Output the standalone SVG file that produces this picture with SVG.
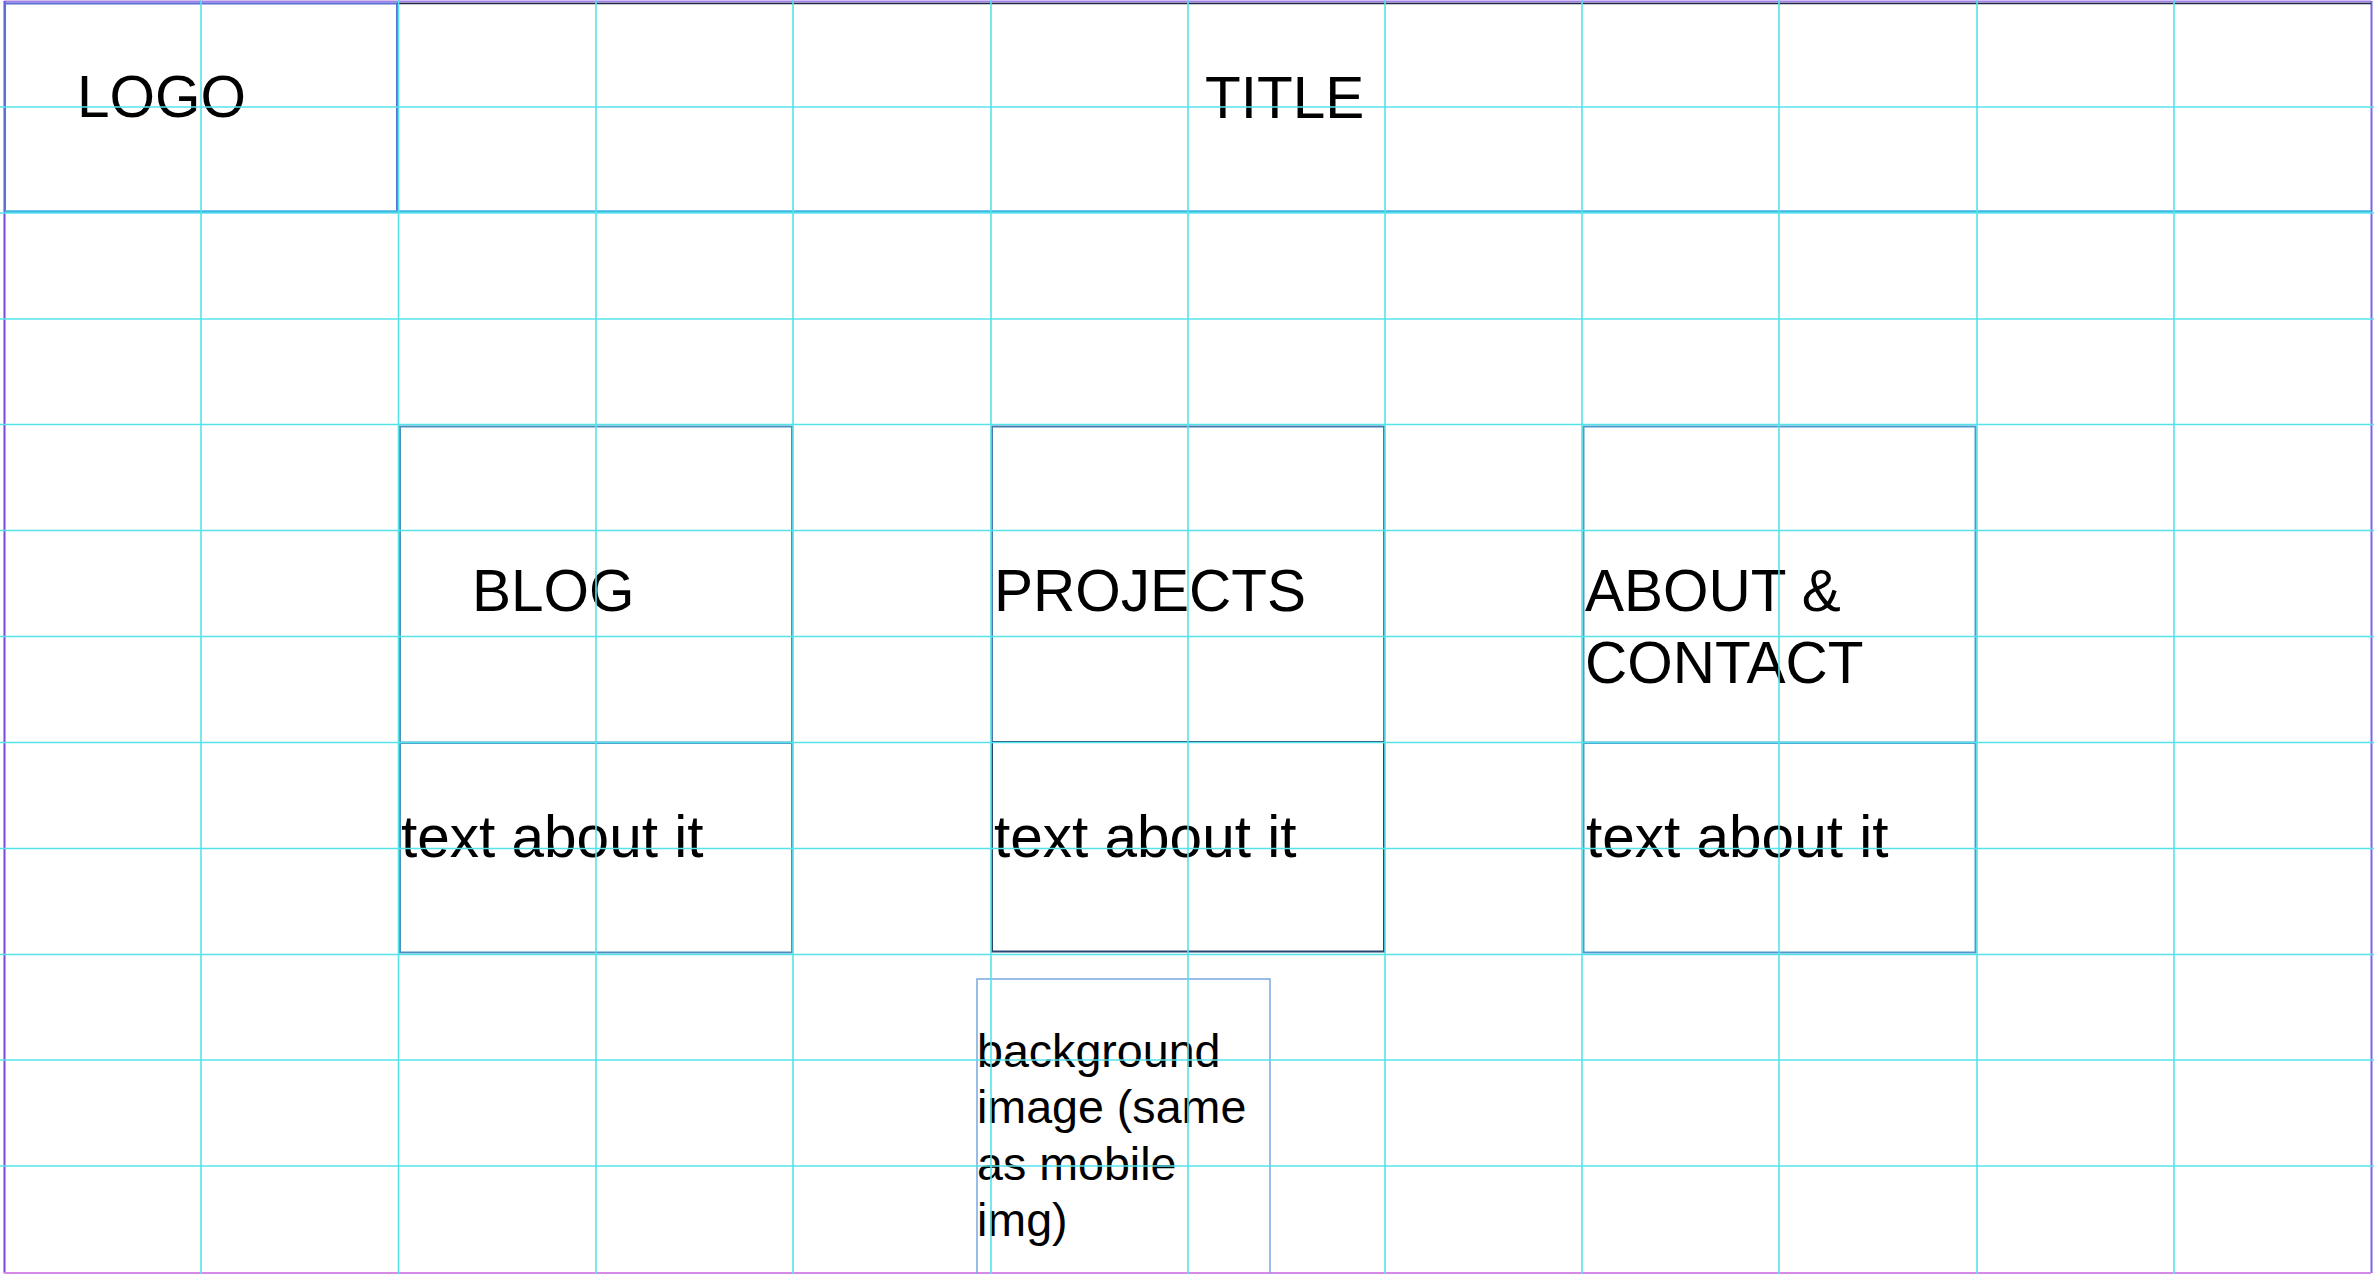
<svg xmlns="http://www.w3.org/2000/svg" width="2374" height="1274" viewBox="0 0 2374 1274">
<style>
.t{font-family:"Liberation Sans",Arial,sans-serif;fill:#000}
.big{font-size:58.5px}
.small{font-size:46.6px}
.box{fill:none;stroke:#4f8fc0;stroke-width:2}
.grid line{stroke:#55e3ea;stroke-width:1.6}
</style>
<rect x="0" y="0" width="2374" height="1274" fill="#fff"/>

<g id="page-border" fill="none" stroke-width="2">
<line x1="4" y1="1.5" x2="2371" y2="1.5" stroke="#a47ee6"/>
<line x1="4.5" y1="1" x2="4.5" y2="1273" stroke="#7c45d6"/>
<line x1="2371.5" y1="1" x2="2371.5" y2="1273" stroke="#7a66e4"/>
<line x1="4" y1="1273" x2="2371" y2="1273" stroke="#d888e6"/>
</g>

<g id="logo">
<rect x="5" y="3.5" width="392" height="208.5" fill="none" stroke="#5a6fd8" stroke-width="2"/>
<text class="t big" x="77" y="117">LOGO</text>
</g>

<g id="title">
<line x1="397" y1="3.5" x2="2371" y2="3.5" stroke="#1d2a44" stroke-width="1.5"/>
<line x1="5" y1="211.5" x2="2371" y2="211.5" stroke="#3cb6e4" stroke-width="2.5"/>
<text class="t big" x="1205" y="118">TITLE</text>
</g>

<g id="blog">
<rect class="box" x="400" y="426.5" width="392" height="316"/>
<text class="t big" x="472" y="611">BLOG</text>
</g>
<g id="blog-text">
<rect class="box" x="400" y="743" width="392" height="209.5"/>
<text class="t big" x="401" y="857">text about it</text>
</g>

<g id="projects">
<rect x="992" y="426.5" width="392" height="315.5" fill="none" stroke="#4a78b0" stroke-width="2"/>
<text class="t big" x="994" y="611">PROJECTS</text>
</g>
<g id="projects-text">
<rect x="992" y="742" width="392" height="209.5" fill="none" stroke="#2c4470" stroke-width="2"/>
<text class="t big" x="994" y="857">text about it</text>
</g>

<g id="about">
<rect x="1583.5" y="426.5" width="392" height="316" fill="none" stroke="#4f98d0" stroke-width="2"/>
<text class="t big"><tspan x="1585" y="611">ABOUT &amp;</tspan><tspan x="1585" y="683">CONTACT</tspan></text>
</g>
<g id="about-text">
<rect x="1583.5" y="743" width="392" height="209.5" fill="none" stroke="#4f98d0" stroke-width="2"/>
<text class="t big" x="1586" y="857">text about it</text>
</g>

<g id="background-image">
<rect x="977" y="979" width="293" height="300" fill="none" stroke="#7aa8e0" stroke-width="1.5"/>
<text class="t small"><tspan x="977" y="1067">background</tspan><tspan x="977" y="1123">image (same</tspan><tspan x="977" y="1180">as mobile</tspan><tspan x="977" y="1236">img)</tspan></text>
</g>

<g id="connectors"></g>

<g id="grid" class="grid">
<line x1="201" y1="0" x2="201" y2="1274"/>
<line x1="398.5" y1="0" x2="398.5" y2="1274"/>
<line x1="596" y1="0" x2="596" y2="1274"/>
<line x1="793" y1="0" x2="793" y2="1274"/>
<line x1="991" y1="0" x2="991" y2="1274"/>
<line x1="1188" y1="0" x2="1188" y2="1274"/>
<line x1="1385" y1="0" x2="1385" y2="1274"/>
<line x1="1582" y1="0" x2="1582" y2="1274"/>
<line x1="1779" y1="0" x2="1779" y2="1274"/>
<line x1="1977" y1="0" x2="1977" y2="1274"/>
<line x1="2174" y1="0" x2="2174" y2="1274"/>
<line x1="0" y1="107" x2="2374" y2="107"/>
<line x1="0" y1="213" x2="2374" y2="213"/>
<line x1="0" y1="319" x2="2374" y2="319"/>
<line x1="0" y1="424.5" x2="2374" y2="424.5"/>
<line x1="0" y1="530.5" x2="2374" y2="530.5"/>
<line x1="0" y1="636.5" x2="2374" y2="636.5"/>
<line x1="0" y1="742.5" x2="2374" y2="742.5"/>
<line x1="0" y1="848.5" x2="2374" y2="848.5"/>
<line x1="0" y1="954.5" x2="2374" y2="954.5"/>
<line x1="0" y1="1060" x2="2374" y2="1060"/>
<line x1="0" y1="1166" x2="2374" y2="1166"/>
</g>
</svg>
